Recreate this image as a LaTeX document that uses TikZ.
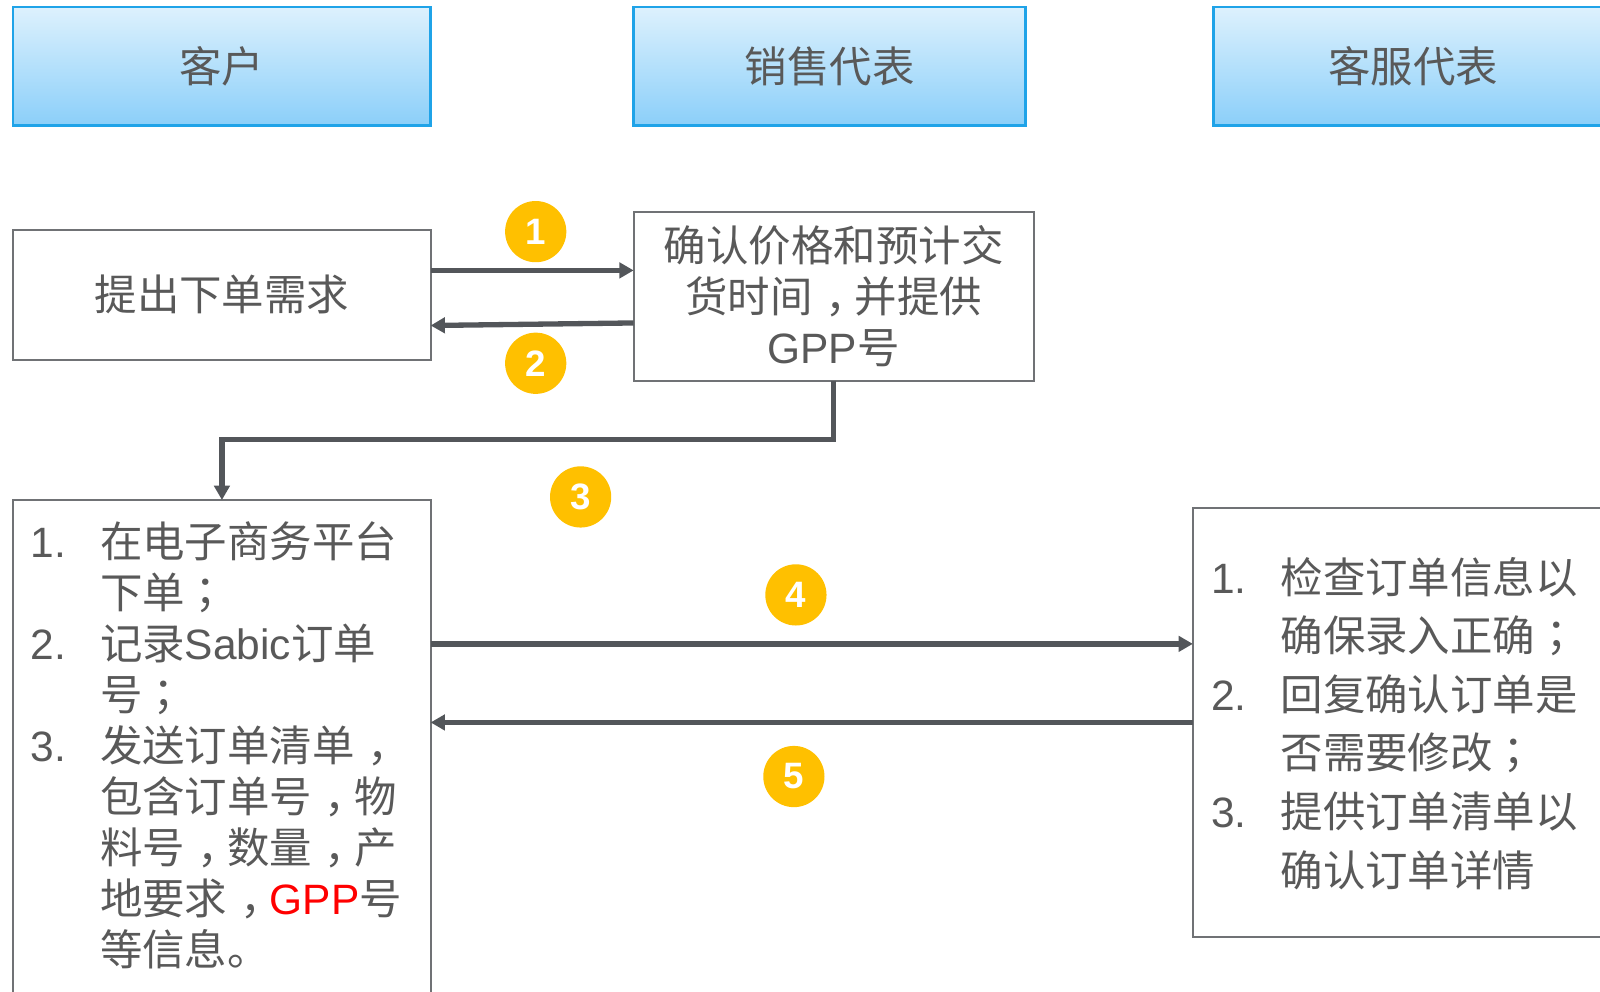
\documentclass[tikz,border=0pt]{standalone}
\usepackage{fontspec}
\setmainfont{Noto Sans CJK SC}
\newfontfamily\latin{Liberation Sans}
\newfontfamily\punct{Noto Sans CJK TC}
\usetikzlibrary{arrows.meta, positioning}

\definecolor{hdrtop}{HTML}{DDF1FD}
\definecolor{hdrbot}{HTML}{8BCFF9}
\definecolor{hdrline}{HTML}{1FA3E8}
\definecolor{boxline}{HTML}{707275}
\definecolor{txtgray}{HTML}{595959}
\definecolor{arrowgray}{HTML}{53565A}
\definecolor{badgecol}{HTML}{FFC000}

\newcommand{\stepno}[1]{\makebox[34pt][l]{\latin #1}}
\newcommand{\stepcont}{\hspace*{34pt}}
\newcommand{\pc}{\makebox[1em][l]{\hspace{0.3em}，}}
\newcommand{\ps}{{\punct ；}}

\begin{document}
\begin{tikzpicture}[x=0.5pt, y=-0.5pt,
      header/.style={draw=hdrline, line width=1.2pt, top color=hdrtop, bottom color=hdrbot, anchor=north west, inner sep=0pt, outer sep=0pt, minimum height=58pt, text=txtgray, font=\fontsize{20.8}{25}\selectfont},
      stepbox/.style={draw=boxline, line width=1pt, fill=white, anchor=north west, inner sep=0pt, outer sep=0pt, text=txtgray, align=center, font=\fontsize{20.8}{25}\selectfont},
      steplist/.style={anchor=north west, inner sep=0pt, outer sep=0pt, text=txtgray, align=left},
      flow/.style={draw=arrowgray, line width=2.6pt, -{Triangle[length=7pt, width=7.5pt]}},
      badge/.style={circle, fill=badgecol, minimum size=30pt, inner sep=0pt, text=white, font=\latin\bfseries\fontsize{18}{18}\selectfont}]

      \clip (0,0) rectangle (1568,972);

      % Lanes
      \node[header, minimum width=204.5pt] (customer) at (13,7) {客户};
      \node[header, minimum width=192pt] (sales) at (621,7) {销售代表};
      \node[header, minimum width=196pt] (service) at (1189,7) {客服代表};

      % Boxes
      \node[stepbox, minimum width=204.5pt, minimum height=64pt] (request) at (13,225) {提出下单需求};
      \node[stepbox, minimum width=196pt, minimum height=82.5pt] (confirm) at (621,208) {确认价格和预计交\\货时间\pc 并提供\\{\latin GPP}号};
      \node[stepbox, minimum width=204.5pt, minimum height=270pt] (orders) at (13,490) {};
      \node[stepbox, minimum width=215pt, minimum height=210pt] (checks) at (1169,498) {};

      % Box texts
      \node[steplist, font=\fontsize{20.8}{25}\selectfont] (ordersteps) at (30,511) {%
        \stepno{1.}在电子商务平台\\
        \stepcont 下单\ps\\
        \stepno{2.}记录{\latin Sabic}订单\\
        \stepcont 号\ps\\
        \stepno{3.}发送订单清单\pc\\
        \stepcont 包含订单号\pc 物\\
        \stepcont 料号\pc 数量\pc 产\\
        \stepcont 地要求\pc{\latin\color{red}GPP}号\\
        \stepcont 等信息。};
      \node[steplist, font=\fontsize{20.8}{28.7}\selectfont] (checksteps) at (1187,546) {%
        \stepno{1.}检查订单信息以\\
        \stepcont 确保录入正确\ps\\
        \stepno{2.}回复确认订单是\\
        \stepcont 否需要修改\ps\\
        \stepno{3.}提供订单清单以\\
        \stepcont 确认订单详情};

      % Arrows
      \draw[flow] ([yshift=12pt]request.east) -- ([yshift=12pt]request.east -| confirm.west);
      \draw[flow] ([yshift=-13pt]confirm.west) -- ([yshift=-15pt]request.east);
      \draw[flow] (confirm.south) -- ++(0,58) -| (orders.north);
      \draw[flow] ([yshift=38.5pt]checks.west -| orders.east) -- ([yshift=38.5pt]checks.west);
      \draw[flow] (checks.west) -- (checks.west -| orders.east);

      % Step numbers
      \node[badge] (b1) at (525,227) {1};
      \node[badge] (b2) at (525,356) {2};
      \node[badge] (b3) at (569,487) {3};
      \node[badge] (b4) at (780,583) {4};
      \node[badge] (b5) at (778,761) {5};
    \end{tikzpicture}
\end{document}
